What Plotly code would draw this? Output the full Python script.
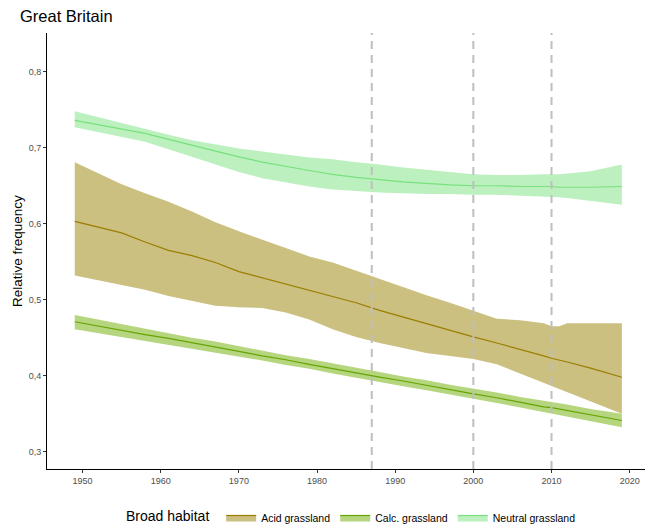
import plotly.graph_objects as go

years = [1949, 1952, 1955, 1958, 1961, 1964, 1967, 1970, 1973, 1976, 1979, 1982, 1985,
         1988, 1991, 1994, 1997, 2000, 2003, 2006, 2009, 2010, 2011, 2012, 2015, 2019]

acid_mean = [0.603, 0.595, 0.588, 0.576, 0.565, 0.558, 0.549, 0.537, 0.529, 0.521, 0.512, 0.505, 0.496,
             0.486, 0.477, 0.468, 0.460, 0.451, 0.443, 0.435, 0.426, 0.423, 0.421, 0.418, 0.410, 0.398]
acid_upper = [0.681, 0.666, 0.652, 0.640, 0.629, 0.616, 0.602, 0.590, 0.579, 0.567, 0.557, 0.549, 0.538,
              0.527, 0.517, 0.506, 0.496, 0.485, 0.475, 0.473, 0.469, 0.465, 0.465, 0.469, 0.469, 0.469]
acid_lower = [0.532, 0.526, 0.520, 0.513, 0.505, 0.499, 0.492, 0.490, 0.489, 0.483, 0.474, 0.461, 0.451,
              0.443, 0.436, 0.430, 0.426, 0.422, 0.415, 0.403, 0.391, 0.386, 0.382, 0.378, 0.366, 0.350]

calc_mean = [0.471, 0.465, 0.460, 0.454, 0.449, 0.443, 0.438, 0.432, 0.426, 0.421, 0.415, 0.409, 0.404,
             0.398, 0.393, 0.387, 0.382, 0.376, 0.371, 0.365, 0.359, 0.358, 0.356, 0.354, 0.348, 0.341]
calc_upper = [0.480, 0.474, 0.468, 0.462, 0.456, 0.450, 0.445, 0.439, 0.433, 0.427, 0.422, 0.416, 0.410,
              0.405, 0.399, 0.394, 0.388, 0.383, 0.378, 0.372, 0.367, 0.365, 0.364, 0.362, 0.356, 0.350]
calc_lower = [0.461, 0.456, 0.451, 0.446, 0.441, 0.436, 0.431, 0.425, 0.420, 0.414, 0.409, 0.403, 0.397,
              0.392, 0.386, 0.381, 0.375, 0.369, 0.364, 0.358, 0.352, 0.350, 0.348, 0.346, 0.340, 0.332]

neutral_mean = [0.736, 0.730, 0.725, 0.719, 0.711, 0.703, 0.696, 0.688, 0.681, 0.675, 0.670, 0.665, 0.661,
                0.658, 0.655, 0.653, 0.651, 0.650, 0.650, 0.649, 0.649, 0.649, 0.648, 0.648, 0.648, 0.649]
neutral_upper = [0.748, 0.740, 0.732, 0.724, 0.717, 0.710, 0.704, 0.699, 0.695, 0.691, 0.687, 0.685, 0.681,
                 0.678, 0.674, 0.671, 0.668, 0.665, 0.664, 0.664, 0.665, 0.665, 0.665, 0.666, 0.669, 0.678]
neutral_lower = [0.727, 0.721, 0.715, 0.708, 0.698, 0.688, 0.678, 0.668, 0.660, 0.654, 0.649, 0.645, 0.643,
                 0.641, 0.640, 0.639, 0.639, 0.638, 0.638, 0.637, 0.636, 0.636, 0.635, 0.634, 0.630, 0.625]

habitats = ["Acid grassland", "Calc. grassland", "Neutral grassland"]
line_colors = ["rgb(155,125,0)", "rgb(100,165,0)", "rgb(120,225,125)"]
fill_colors = ["rgba(151,129,0,0.5)", "rgba(107,173,0,0.5)", "rgba(122,225,127,0.5)"]
vlines = [1987, 2000, 2010]

series = [(acid_lower, acid_mean, acid_upper),
          (calc_lower, calc_mean, calc_upper),
          (neutral_lower, neutral_mean, neutral_upper)]

fig = go.Figure()
for name, lc, fc, (lo, mn, up) in zip(habitats, line_colors, fill_colors, series):
    fig.add_trace(go.Scatter(x=years, y=lo, mode="lines", line=dict(width=0, color=fc),
                             showlegend=False, hoverinfo="skip", legendgroup=name))
    fig.add_trace(go.Scatter(x=years, y=mn, mode="lines", line=dict(width=1.2, color=lc),
                             fill="tonexty", fillcolor=fc, name=name, legendgroup=name))
    fig.add_trace(go.Scatter(x=years, y=up, mode="lines", line=dict(width=0, color=fc),
                             fill="tonexty", fillcolor=fc, showlegend=False,
                             hoverinfo="skip", legendgroup=name))

for v in vlines:
    fig.add_shape(type="line", x0=v, x1=v, y0=0, y1=1, xref="x", yref="paper",
                  line=dict(color="#BEBEBE", width=2, dash="8px,6px"), layer="above")

font_family = "Liberation Sans, Arial, sans-serif"

fig.add_annotation(text="Relative frequency", x=-0.050, y=0.5, xref="paper", yref="paper",
                   textangle=-90, showarrow=False, font=dict(size=13.5, color="black", family=font_family),
                   xanchor="center", yanchor="middle")

fig.update_layout(
    width=645, height=526,
    margin=dict(l=47, r=0, t=33, b=57, autoexpand=False),
    paper_bgcolor="white", plot_bgcolor="white",
    font=dict(family=font_family, color="black"),
    title=dict(text="Great Britain", x=20 / 645, xref="container", xanchor="left",
               y=1 - 16 / 526, yref="container", yanchor="middle",
               font=dict(size=16.5, color="black", family=font_family)),
    xaxis=dict(range=[1945.45, 2021.96], tickvals=[1950, 1960, 1970, 1980, 1990, 2000, 2010, 2020],
               showgrid=False, zeroline=False, showline=True, linecolor="black", linewidth=1.1,
               ticks="outside", ticklen=3, tickcolor="#333333", tickwidth=1, automargin=False,
               tickfont=dict(size=9, color="#4d4d4d")),
    yaxis=dict(range=[0.2772, 0.851], tickvals=[0.3, 0.4, 0.5, 0.6, 0.7, 0.8],
               ticktext=["0,3", "0,4", "0,5", "0,6", "0,7", "0,8"],
               showgrid=False, zeroline=False, showline=True, linecolor="black", linewidth=1.1,
               ticks="outside", ticklen=3, tickcolor="#333333", tickwidth=1, automargin=False,
               tickfont=dict(size=9, color="#4d4d4d")),
    legend=dict(orientation="h", x=124 / 645, xref="container", xanchor="left",
                y=1 - 503 / 526, yref="container", yanchor="top",
                title=dict(text="Broad habitat ", font=dict(size=14, color="black")),
                font=dict(size=10.5, color="black"), itemwidth=30, bgcolor="rgba(0,0,0,0)"),
)

fig.write_html("out.html", config={"displayModeBar": False},
               post_script="document.body.style.margin='0px';document.body.style.overflow='hidden';")
